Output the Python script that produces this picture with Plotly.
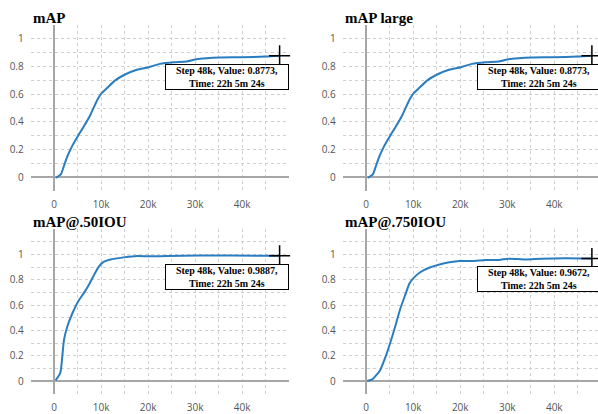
import plotly.graph_objects as go

W, H = 598, 414

# ---- data ----
titles = ["mAP", "mAP large", "mAP@.50IOU", "mAP@.750IOU"]

map_steps = [300, 1400, 2100, 2800, 3900, 5100, 6300, 7700, 9200, 10100, 11300, 13000,
             15100, 17600, 20100, 22500, 25400, 28200, 30300, 32400, 35200, 40100, 45000, 48000]
map_vals = [-0.005, 0.02, 0.084, 0.15, 0.23, 0.30, 0.366, 0.45, 0.56, 0.607, 0.646, 0.70,
            0.742, 0.776, 0.795, 0.819, 0.831, 0.836, 0.853, 0.86, 0.865, 0.867, 0.872, 0.8773]

large_steps = [300, 1400, 2100, 2800, 3900, 5100, 6300, 7700, 9200, 10100, 11300, 13000,
               15100, 17600, 20100, 22500, 25400, 28200, 30300, 32400, 35200, 40100, 45000, 48000]
large_vals = [-0.005, 0.02, 0.084, 0.15, 0.23, 0.30, 0.366, 0.45, 0.56, 0.607, 0.646, 0.70,
              0.742, 0.776, 0.795, 0.819, 0.831, 0.836, 0.853, 0.86, 0.865, 0.867, 0.872, 0.8773]

iou50_steps = [300, 1300, 1600, 2100, 2800, 3900, 5100, 6300, 7400, 8500, 9500, 10600,
               12000, 14800, 17600, 20400, 23900, 31000, 38000, 48000]
iou50_vals = [0.005, 0.065, 0.144, 0.327, 0.43, 0.537, 0.628, 0.694, 0.76, 0.838, 0.903, 0.942,
              0.96, 0.976, 0.987, 0.984, 0.987, 0.99, 0.99, 0.9887]

iou75_steps = [200, 1300, 2000, 3000, 4100, 5100, 6200, 7200, 8300, 9200, 10000, 11400,
               13500, 15600, 17700, 19800, 22600, 25400, 28200, 30300, 33800, 37300, 42200, 48000]
iou75_vals = [0.0, 0.013, 0.04, 0.088, 0.19, 0.30, 0.435, 0.565, 0.68, 0.77, 0.81, 0.857,
              0.896, 0.92, 0.937, 0.948, 0.948, 0.956, 0.956, 0.966, 0.96, 0.966, 0.969, 0.9672]

series = [(map_steps, map_vals), (large_steps, large_vals),
          (iou50_steps, iou50_vals), (iou75_steps, iou75_vals)]

hover_step = 48000
hover_label = "Step 48k"
hover_time = "Time: 22h 5m 24s"

x_tickvals = [0, 10000, 20000, 30000, 40000]
x_ticktext = ["0", "10k", "20k", "30k", "40k"]
y_tickvals = [0, 0.2, 0.4, 0.6, 0.8, 1]
y_ticktext = ["0", "0.2", "0.4", "0.6", "0.8", "1"]

# ---- layout geometry (pixels) ----
def px_x(p):
    return p / W

def px_y(p):
    return 1 - p / H

x_domains = [[px_x(30.7), px_x(289)], [px_x(342.7), 1.0]]
y_domains = [[px_y(191), px_y(25)], [px_y(393.7), px_y(229)]]
x_ranges = [[-5000, 50000], [-5000, 49300]]
y_ranges = [[-0.1, 1.1], [-0.1, 1.2]]

fig = go.Figure()
LINE = "#2a7dc0"
GRID = "#cfcfcf"
ZERO = "#a6a6a6"
tickfont = dict(family="Open Sans", size=10, color="#555555")

annotations = []
for i, (steps, vals) in enumerate(series):
    col, row = i % 2, i // 2
    n = i + 1
    xa = "x" if n == 1 else f"x{n}"
    ya = "y" if n == 1 else f"y{n}"
    fig.add_trace(go.Scatter(x=steps, y=vals, mode="lines",
                             line=dict(color=LINE, width=2, shape="spline", smoothing=0.6),
                             xaxis=xa, yaxis=ya, showlegend=False, hoverinfo="skip"))
    hv = vals[-1]
    fig.add_trace(go.Scatter(x=[steps[-1]], y=[hv], mode="markers",
                             marker=dict(symbol="cross-thin", size=15,
                                         line=dict(color="black", width=1.5)),
                             xaxis=xa, yaxis=ya, showlegend=False, cliponaxis=False))
    axx = dict(domain=x_domains[col], range=x_ranges[col], anchor=ya,
               tickvals=x_tickvals, ticktext=x_ticktext, tickfont=tickfont,
               showgrid=True, gridcolor=GRID, griddash="dot", gridwidth=1,
               minor=dict(dtick=5000, tick0=-5000, showgrid=True, gridcolor=GRID,
                          griddash="dot", gridwidth=1),
               zeroline=True, zerolinecolor=ZERO, zerolinewidth=2,
               showline=False, ticks="", ticklabelstandoff=6, fixedrange=True)
    axy = dict(domain=y_domains[row], range=y_ranges[row], anchor=xa,
               tickvals=y_tickvals, ticktext=y_ticktext, tickfont=tickfont,
               showgrid=True, gridcolor=GRID, griddash="dot", gridwidth=1,
               minor=dict(dtick=0.1, tick0=0, showgrid=True, gridcolor=GRID,
                          griddash="dot", gridwidth=1),
               zeroline=True, zerolinecolor=ZERO, zerolinewidth=2,
               showline=False, ticks="", ticklabelstandoff=6, fixedrange=True)
    fig.layout[("xaxis" if n == 1 else f"xaxis{n}")] = axx
    fig.layout[("yaxis" if n == 1 else f"yaxis{n}")] = axy

    # panel title
    title_top = [18, 222][row]
    annotations.append(dict(text=f"<b>{titles[i]}</b>", xref="paper", yref="paper",
                            x=x_domains[col][0], y=px_y(title_top), xanchor="left",
                            yanchor="middle", showarrow=False,
                            font=dict(family="Liberation Serif", size=15, color="black")))
    # hover box
    annotations.append(dict(text=f"<b>{hover_label}, Value: {hv:.4f},<br>{hover_time}</b>",
                            xref=xa, yref=ya, x=steps[-1], y=hv,
                            xanchor="right", yanchor="top", xshift=9, yshift=-8,
                            showarrow=False, align="center", width=122, height=24,
                            bgcolor="white", bordercolor="black", borderwidth=1, borderpad=0,
                            font=dict(family="Liberation Serif", size=10, color="black")))

fig.update_layout(width=W, height=H, margin=dict(l=0, r=0, t=0, b=0),
                  paper_bgcolor="white", plot_bgcolor="white",
                  annotations=annotations, showlegend=False)

fig.write_html("out.html")
